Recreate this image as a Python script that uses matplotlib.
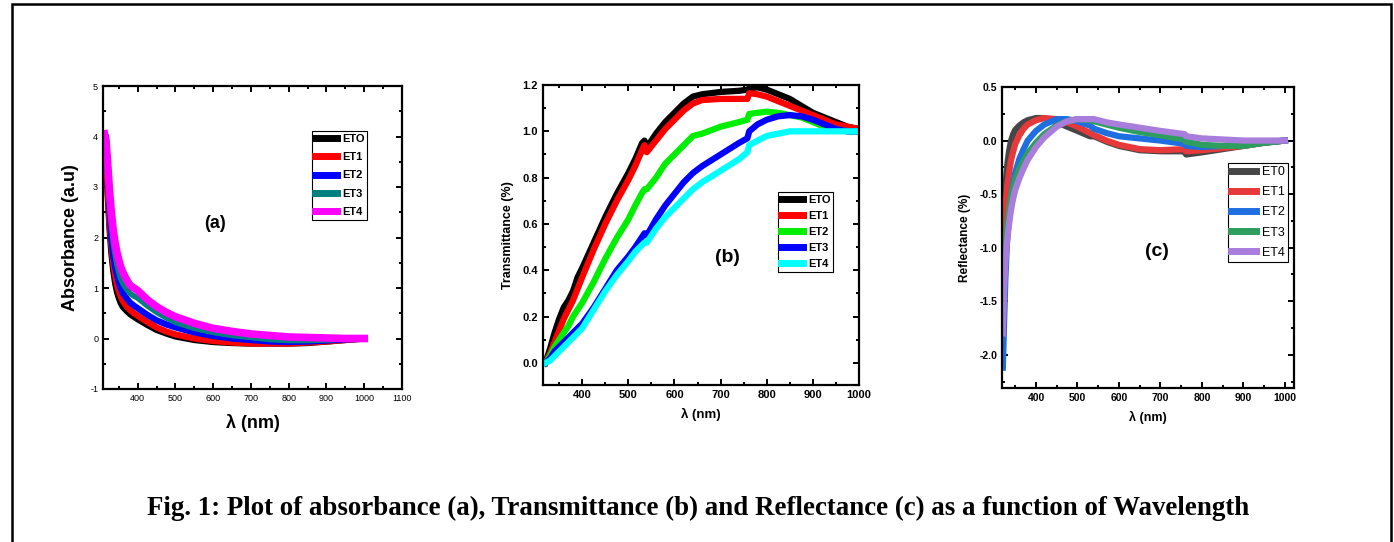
import matplotlib.pyplot as plt
from matplotlib.patches import Rectangle
from matplotlib.ticker import MultipleLocator, FormatStrFormatter

# ---- data ----
# (a) absorbance
wl_a = [312, 316, 320, 325, 330, 335, 340, 345, 350, 355, 360, 370, 380, 390, 400,
        425, 450, 475, 500, 550, 600, 650, 700, 750, 800, 850, 900, 950, 1000]
abs_et0 = [4.0, 3.6, 2.9, 2.2, 1.7, 1.35, 1.1, 0.92, 0.8, 0.7, 0.63, 0.55, 0.48, 0.43, 0.38,
           0.27, 0.17, 0.1, 0.04, -0.03, -0.07, -0.09, -0.1, -0.1, -0.1, -0.09, -0.06, -0.03, 0.0]
abs_et1 = [4.0, 3.7, 3.0, 2.3, 1.85, 1.5, 1.25, 1.07, 0.93, 0.83, 0.75, 0.64, 0.56, 0.5, 0.45,
           0.33, 0.22, 0.14, 0.08, 0.0, -0.05, -0.08, -0.1, -0.1, -0.1, -0.08, -0.06, -0.03, 0.0]
abs_et2 = [4.05, 4.0, 3.5, 2.6, 2.0, 1.65, 1.42, 1.25, 1.1, 0.99, 0.9, 0.8, 0.71, 0.65, 0.6,
           0.47, 0.36, 0.28, 0.22, 0.12, 0.05, 0.0, -0.03, -0.06, -0.07, -0.06, -0.04, -0.02, 0.0]
abs_et3 = [4.0, 3.8, 3.3, 2.7, 2.25, 1.9, 1.65, 1.45, 1.3, 1.18, 1.1, 0.98, 0.89, 0.84, 0.8,
           0.65, 0.52, 0.41, 0.32, 0.2, 0.12, 0.06, 0.02, -0.02, -0.04, -0.04, -0.03, -0.01, 0.0]
abs_et4 = [4.05, 3.9, 3.5, 2.95, 2.5, 2.15, 1.9, 1.7, 1.55, 1.42, 1.32, 1.17, 1.05, 1.0, 0.95,
           0.77, 0.63, 0.52, 0.43, 0.3, 0.2, 0.14, 0.09, 0.06, 0.03, 0.02, 0.01, 0.0, 0.0]

# (b) transmittance
wl_b = [320, 330, 340, 350, 360, 370, 380, 390, 400, 425, 450, 475, 500, 515, 530, 535, 540,
        560, 580, 600, 620, 640, 660, 700, 740, 758, 762, 780, 800, 825, 850, 875, 900, 925, 950, 975, 1000]
tr_et0 = [0.0, 0.06, 0.13, 0.19, 0.24, 0.27, 0.31, 0.37, 0.41, 0.52, 0.63, 0.73, 0.82, 0.88, 0.95, 0.96, 0.93,
          0.99, 1.04, 1.08, 1.12, 1.15, 1.16, 1.17, 1.175, 1.18, 1.185, 1.19, 1.18, 1.16, 1.14, 1.11, 1.08, 1.06, 1.04, 1.02, 1.01]
tr_et1 = [0.0, 0.04, 0.09, 0.14, 0.19, 0.23, 0.27, 0.32, 0.37, 0.49, 0.6, 0.7, 0.79, 0.85, 0.92, 0.94, 0.91,
          0.96, 1.01, 1.05, 1.09, 1.12, 1.135, 1.14, 1.14, 1.14, 1.165, 1.16, 1.15, 1.13, 1.11, 1.09, 1.07, 1.05, 1.03, 1.02, 1.01]
tr_et2 = [0.0, 0.03, 0.07, 0.1, 0.13, 0.16, 0.2, 0.23, 0.26, 0.35, 0.45, 0.54, 0.62, 0.68, 0.735, 0.75, 0.75,
          0.8, 0.86, 0.9, 0.94, 0.98, 0.99, 1.02, 1.04, 1.05, 1.075, 1.08, 1.085, 1.08, 1.07, 1.06, 1.04, 1.02, 1.01, 1.0, 1.0]
tr_et3 = [0.0, 0.02, 0.05, 0.07, 0.09, 0.11, 0.13, 0.15, 0.17, 0.24, 0.32, 0.4, 0.46, 0.5, 0.545, 0.56, 0.55,
          0.62, 0.68, 0.73, 0.78, 0.82, 0.85, 0.9, 0.95, 0.97, 1.0, 1.03, 1.05, 1.065, 1.07, 1.065, 1.05, 1.03, 1.01, 1.0, 1.0]
tr_et4 = [0.0, 0.01, 0.03, 0.05, 0.07, 0.09, 0.11, 0.13, 0.15, 0.23, 0.31, 0.38, 0.44, 0.48, 0.51, 0.52, 0.52,
          0.58, 0.63, 0.67, 0.71, 0.75, 0.78, 0.83, 0.88, 0.91, 0.94, 0.96, 0.98, 0.99, 1.0, 1.0, 1.0, 1.0, 1.0, 1.0, 1.0]

# (c) reflectance
wl_c = [320, 323, 326, 330, 335, 340, 345, 350, 360, 370, 380, 400, 420, 450, 475, 500, 530, 540,
        570, 600, 650, 700, 758, 762, 800, 850, 900, 950, 1000]
rf_et0 = [-1.0, -0.7, -0.45, -0.25, -0.1, 0.0, 0.06, 0.1, 0.14, 0.17, 0.19, 0.21, 0.21, 0.17, 0.13, 0.09, 0.04, 0.04,
          -0.01, -0.05, -0.09, -0.1, -0.1, -0.13, -0.11, -0.08, -0.05, -0.02, 0.0]
rf_et1 = [-1.2, -0.9, -0.65, -0.45, -0.3, -0.18, -0.1, -0.03, 0.05, 0.11, 0.15, 0.19, 0.21, 0.2, 0.17, 0.13, 0.07, 0.05,
          0.0, -0.04, -0.08, -0.09, -0.08, -0.1, -0.09, -0.07, -0.05, -0.02, 0.0]
rf_et2 = [-2.12, -1.7, -1.3, -0.95, -0.7, -0.52, -0.4, -0.3, -0.17, -0.08, 0.0, 0.09, 0.15, 0.2, 0.2, 0.18, 0.14, 0.11,
          0.07, 0.04, 0.02, 0.0, -0.03, -0.05, -0.06, -0.05, -0.04, -0.02, 0.0]
rf_et3 = [-1.3, -1.1, -0.95, -0.8, -0.65, -0.52, -0.43, -0.36, -0.26, -0.19, -0.12, -0.02, 0.06, 0.14, 0.18, 0.2, 0.19, 0.18,
          0.15, 0.12, 0.08, 0.05, 0.01, -0.01, -0.04, -0.05, -0.05, -0.02, 0.0]
rf_et4 = [-1.8, -1.4, -1.15, -0.95, -0.78, -0.64, -0.54, -0.46, -0.35, -0.26, -0.18, -0.06, 0.03, 0.13, 0.18, 0.2, 0.2, 0.2,
          0.17, 0.15, 0.12, 0.09, 0.06, 0.04, 0.02, 0.01, 0.0, 0.0, 0.0]

labels_ab = ['ETO', 'ET1', 'ET2', 'ET3', 'ET4']
labels_c = ['ET0', 'ET1', 'ET2', 'ET3', 'ET4']
caption = 'Fig. 1: Plot of absorbance (a), Transmittance (b) and Reflectance (c) as a function of Wavelength'

plt.rcParams['font.family'] = ['Liberation Sans', 'DejaVu Sans']
plt.rcParams['axes.unicode_minus'] = False

W, H = 1394, 542
fig = plt.figure(figsize=(W / 100, H / 100), dpi=100)


def px_axes(l, t, r, b):
    return fig.add_axes([l / W, 1 - b / H, (r - l) / W, (b - t) / H])


def style(ax, fs):
    for s in ax.spines.values():
        s.set_linewidth(1.6)
    ax.tick_params(which='both', direction='in', top=True, right=True, labelsize=fs, width=1.4)
    ax.tick_params(which='major', length=4)
    ax.tick_params(which='minor', length=2)


def px_text(x, y, s, size):
    fig.text(x / W, 1 - y / H, s, fontsize=size, fontweight='bold', ha='center', va='center')


def legend(ax, x, y, prop, spacing, hl):
    l, b, w, h = ax.get_position().bounds
    bx = (x / W - l) / w
    by = (1 - y / H - b) / h
    leg = ax.legend(loc='upper left', bbox_to_anchor=(bx, by), prop=prop, frameon=True,
                    fancybox=False, edgecolor='black', handlelength=hl, handletextpad=0.45,
                    borderpad=0.25, labelspacing=spacing, borderaxespad=0, framealpha=1)
    leg.get_frame().set_linewidth(0.8)
    for ln in leg.get_lines():
        ln.set_linewidth(5)
    return leg


# ---- (a) ----
ax = px_axes(103, 86, 402, 389)
cols_a = ['black', '#ff0000', '#0000ff', '#007f7f', '#ff00ff']
lws_a = [4.5, 4.5, 4.5, 4.0, 5.5]
for y, c, lw, lab in zip([abs_et0, abs_et1, abs_et2, abs_et3, abs_et4], cols_a, lws_a, labels_ab):
    ax.plot(wl_a, y, color=c, lw=lw, label=lab)
ax.set_xlim(308, 1100)
ax.set_ylim(-1, 5)
ax.set_xticks(range(400, 1101, 100))
ax.xaxis.set_minor_locator(MultipleLocator(50))
ax.yaxis.set_minor_locator(MultipleLocator(0.5))
style(ax, 6.5)
ax.set_xlabel('λ (nm)', fontsize=13, fontweight='bold', labelpad=8)
ax.set_ylabel('Absorbance (a.u)', fontsize=13, fontweight='bold', labelpad=8)
px_text(215, 223, '(a)', 13)
legend(ax, 312, 131, {'weight': 'bold', 'size': 8}, 0.75, 2.0)

# ---- (b) ----
ax = px_axes(543, 85, 859, 385)
cols_b = ['black', '#ff0000', '#00ee00', '#0000ff', '#00ffff']
for y, c, lab in zip([tr_et0, tr_et1, tr_et2, tr_et3, tr_et4], cols_b, labels_ab):
    ax.plot(wl_b, y, color=c, lw=4.5, label=lab)
ax.set_xlim(315, 1000)
ax.set_ylim(-0.095, 1.2)
ax.set_xticks(range(400, 1001, 100))
ax.set_yticks([0.0, 0.2, 0.4, 0.6, 0.8, 1.0, 1.2])
ax.xaxis.set_minor_locator(MultipleLocator(50))
ax.yaxis.set_minor_locator(MultipleLocator(0.1))
style(ax, 8)
for t in ax.get_xticklabels() + ax.get_yticklabels():
    t.set_fontweight('bold')
ax.set_xlabel('λ (nm)', fontsize=9.5, fontweight='bold', labelpad=6)
ax.set_ylabel('Transmittance (%)', fontsize=9, fontweight='bold', labelpad=6)
px_text(727, 258, '(b)', 14)
legend(ax, 778, 192, {'weight': 'bold', 'size': 8}, 0.55, 2.0)

# ---- (c) ----
ax = px_axes(1002, 87, 1294, 388)
cols_c = ['#464646', '#e8393a', '#1f6fe0', '#2e9e5e', '#a87ddc']
for y, c, lab in zip([rf_et0, rf_et1, rf_et2, rf_et3, rf_et4], cols_c, labels_c):
    ax.plot(wl_c, y, color=c, lw=4.5, label=lab)
ax.set_xlim(318, 1022)
ax.set_ylim(-2.31, 0.5)
ax.set_xticks(range(400, 1001, 100))
ax.set_yticks([-2.0, -1.5, -1.0, -0.5, 0.0, 0.5])
ax.yaxis.set_major_formatter(FormatStrFormatter('%.1f'))
ax.xaxis.set_minor_locator(MultipleLocator(50))
ax.yaxis.set_minor_locator(MultipleLocator(0.25))
style(ax, 7.5)
for t in ax.get_xticklabels() + ax.get_yticklabels():
    t.set_fontweight('bold')
ax.set_xlabel('λ (nm)', fontsize=9, fontweight='bold', labelpad=6)
ax.set_ylabel('Reflectance (%)', fontsize=8.5, fontweight='bold', labelpad=6)
px_text(1157, 252, '(c)', 14)
legend(ax, 1228, 163, {'size': 9}, 0.65, 2.0)

# caption and frame
fig.text(698 / W, 1 - 508 / H, caption, fontsize=19.4, fontweight='bold',
         family=['Liberation Serif', 'DejaVu Serif'], ha='center', va='center')
fig.add_artist(Rectangle((12 / W, -0.02), (1391 - 12) / W, 1.02 - 4 / H, transform=fig.transFigure,
                         fill=False, edgecolor='black', lw=1.8))

fig.savefig('out.png', dpi=100)
